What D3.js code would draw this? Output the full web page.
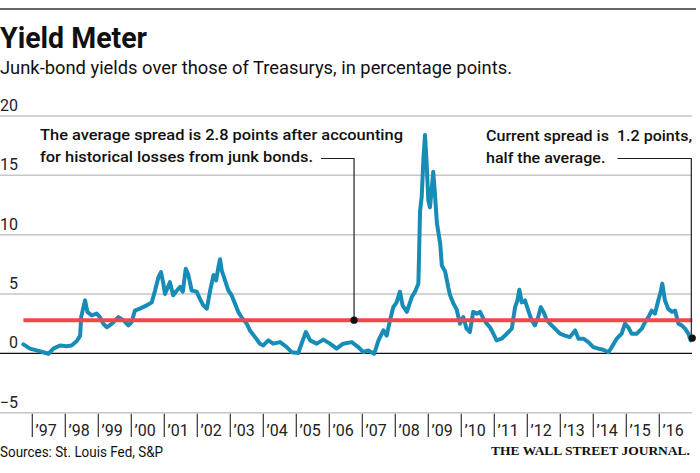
<!DOCTYPE html>
<html>
<head>
<meta charset="utf-8">
<script src="https://cdn.jsdelivr.net/npm/d3@7"></script>
<style>
  html, body { margin: 0; padding: 0; background: #fff; }
  svg { display: block; }
  text { font-family: Roboto, "Noto Sans", sans-serif; fill: #111; }
</style>
</head>
<body>
<svg id="chart" width="700" height="473"></svg>
<script>
// ---------- data ----------
const title = "Yield Meter";
const subtitle = "Junk-bond yields over those of Treasurys, in percentage points.";
const source = "Sources: St. Louis Fed, S&P";
const credit = "THE WALL STREET JOURNAL.";

const yTicks = [-5, 0, 5, 10, 15, 20];
const xYears = [1997,1998,1999,2000,2001,2002,2003,2004,2005,2006,2007,2008,2009,2010,2011,2012,2013,2014,2015,2016];
const xLabels = ["’97","’98","’99","’00","’01","’02","’03","’04","’05","’06","’07","’08","’09","’10","’11","’12","’13","’14","’15","’16"];

// decimal year of each observation
const dates = [
 1996.73,1996.93,1997.13,1997.33,1997.49,1997.64,1997.84,1998.04,1998.19,1998.35,
 1998.45,1998.48,1998.55,1998.60,1998.67,1998.80,1998.95,1999.05,1999.15,1999.26,
 1999.41,1999.61,1999.76,1999.91,2000.01,2000.11,2000.26,2000.47,2000.62,2000.72,
 2000.82,2000.90,2000.97,2001.02,2001.17,2001.27,2001.38,2001.48,2001.56,2001.65,
 2001.73,2001.83,2001.98,2002.08,2002.18,2002.29,2002.39,2002.49,2002.57,2002.64,
 2002.69,2002.74,2002.84,2002.94,2003.04,2003.14,2003.24,2003.35,2003.50,2003.60,
 2003.75,2003.90,2004.00,2004.15,2004.30,2004.51,2004.71,2004.86,2005.06,2005.16,
 2005.29,2005.42,2005.62,2005.82,2006.02,2006.22,2006.42,2006.68,2006.88,2007.03,
 2007.18,2007.36,2007.49,2007.64,2007.74,2007.84,2007.94,2008.04,2008.14,2008.22,
 2008.35,2008.50,2008.60,2008.70,2008.75,2008.80,2008.85,2008.90,2008.95,2009.00,
 2009.05,2009.10,2009.15,2009.20,2009.26,2009.36,2009.41,2009.51,2009.61,2009.66,
 2009.76,2009.86,2009.96,2010.06,2010.16,2010.26,2010.36,2010.47,2010.57,2010.67,
 2010.77,2010.87,2010.97,2011.07,2011.22,2011.38,2011.53,2011.63,2011.70,2011.76,
 2011.83,2011.93,2012.03,2012.13,2012.23,2012.33,2012.41,2012.49,2012.59,2012.69,
 2012.84,2012.99,2013.14,2013.29,2013.45,2013.55,2013.70,2013.85,2014.00,2014.15,
 2014.30,2014.46,2014.56,2014.71,2014.86,2014.96,2015.06,2015.16,2015.32,2015.47,
 2015.57,2015.67,2015.77,2015.87,2015.97,2016.04,2016.09,2016.17,2016.27,2016.38,
 2016.48,2016.58,2016.68,2016.78,2016.88,2016.95,2017.00
];
// spread, percentage points
const spread = [
 0.76,0.40,0.25,0.10,-0.03,0.40,0.67,0.60,0.67,1.04,
 1.50,3.06,3.90,4.47,3.50,3.20,3.35,3.06,2.50,2.20,
 2.50,3.06,2.80,2.36,2.64,3.60,3.77,4.05,4.30,5.30,
 6.40,6.85,5.90,5.00,6.00,4.90,5.30,5.60,5.20,7.14,
 6.60,5.30,5.20,4.60,4.05,3.77,5.30,6.60,6.15,7.28,
 7.93,7.00,6.15,5.30,4.90,4.20,3.50,3.00,2.50,1.90,
 1.37,0.82,0.67,1.10,0.82,0.95,0.53,0.10,0.03,0.82,
 1.80,1.10,0.82,1.16,0.82,0.40,0.82,0.95,0.53,0.10,
 0.25,-0.03,1.10,1.94,1.50,2.80,3.90,4.30,5.20,4.05,
 3.50,4.75,5.20,5.90,12.00,13.20,16.30,18.40,16.00,12.90,
 12.30,13.70,15.30,13.50,11.00,9.25,7.40,6.90,5.50,4.90,
 4.20,3.70,2.50,3.06,2.08,1.80,3.50,3.35,3.50,2.92,
 2.50,2.20,1.66,1.10,1.24,1.66,2.08,3.90,4.47,5.37,
 4.30,4.47,3.60,2.80,2.36,3.06,3.90,3.50,2.80,2.50,
 2.08,1.66,1.50,1.37,1.94,1.24,1.24,0.95,0.53,0.40,
 0.31,0.10,0.53,1.24,1.66,2.50,2.20,1.66,1.66,2.08,
 2.64,3.06,3.60,3.35,4.47,5.17,5.88,4.47,3.77,3.50,
 3.60,2.50,2.36,2.08,1.66,1.10,1.29
];
const averageSpread = 2.8;
const averageNoteDate = 2006.75;
const noteAverage = ["The average spread is 2.8 points after accounting", "for historical losses from junk bonds."];
const noteCurrent = ["Current spread is  1.2 points,", "half the average."];

// ---------- layout ----------
const svg = d3.select("#chart");
const plotRight = 692;
const x = d3.scaleLinear().domain([1997, 2017]).range([32.3, 692.3]);
const y = d3.scaleLinear().domain([0, 20]).range([353.4, 116]);

const data = dates.map((d, i) => ({ t: d, v: spread[i] }));

// top rule
svg.append("line").attr("x1", 0).attr("x2", 696).attr("y1", 9).attr("y2", 9)
  .attr("stroke", "#333").attr("stroke-width", 1.5);

// title + subtitle
svg.append("text").attr("x", 0).attr("y", 47.5).text(title)
  .attr("font-size", 29).attr("font-weight", 700)
  .attr("textLength", 147).attr("lengthAdjust", "spacingAndGlyphs");
svg.append("text").attr("x", 0).attr("y", 74).text(subtitle)
  .attr("font-size", 17.5).attr("font-weight", 400)
  .attr("textLength", 512).attr("lengthAdjust", "spacingAndGlyphs");

// gridlines
const grid = svg.append("g");
grid.selectAll("line").data(yTicks).join("line")
  .attr("x1", 0).attr("x2", plotRight)
  .attr("y1", d => y(d)).attr("y2", d => y(d))
  .attr("stroke", d => d === 0 ? "#111" : "#c6c6c6")
  .attr("stroke-width", d => d === 0 ? 1.4 : 1.5);
grid.selectAll("text").data(yTicks).join("text")
  .attr("x", 18).attr("y", d => y(d) - 5)
  .attr("text-anchor", "end").attr("font-size", 16).attr("font-weight", 400)
  .style("fill", "#222")
  .text(d => d < 0 ? "−" + Math.abs(d) : d);

// x axis ticks
const xa = svg.append("g");
xa.selectAll("line").data(xYears).join("line")
  .attr("x1", d => x(d)).attr("x2", d => x(d))
  .attr("y1", y(-5) + 1).attr("y2", 437)
  .attr("stroke", "#333").attr("stroke-width", 1.2);
xa.selectAll("text").data(xYears).join("text")
  .attr("x", d => x(d) + 3.3).attr("y", 436)
  .attr("font-size", 16).attr("font-weight", 400)
  .style("fill", "#222")
  .text((d, i) => xLabels[i]);

// series line
const line = d3.line().x(d => x(d.t)).y(d => y(d.v)).curve(d3.curveLinear);
svg.append("path").datum(data).attr("d", line)
  .attr("fill", "none").attr("stroke", "#178cb7").attr("stroke-width", 4)
  .attr("stroke-linejoin", "round").attr("stroke-linecap", "round");

// average line
svg.append("line")
  .attr("x1", x(dates[0])).attr("x2", x(dates[dates.length - 1]))
  .attr("y1", y(averageSpread)).attr("y2", y(averageSpread))
  .attr("stroke", "#f0474d").attr("stroke-width", 4);

// annotations
function addNote(lines, x0, baselines, targetWidth) {
  const g = svg.append("g");
  const ts = lines.map((s, i) => g.append("text")
    .attr("x", x0).attr("y", baselines[i])
    .attr("font-size", 15.5).attr("font-weight", 500)
    .style("white-space", "pre").text(s));
  const natural = ts[0].node().getComputedTextLength();
  const r = targetWidth / natural;
  return ts.map(t => {
    const w = t.node().getComputedTextLength() * r;
    t.attr("textLength", w).attr("lengthAdjust", "spacingAndGlyphs");
    return w;
  });
}
const wA = addNote(noteAverage, 40, [139.5, 162], 363);
const wC = addNote(noteCurrent, 486, [140.5, 162.5], 206);

const leaderY = 158.5;
const ax = x(averageNoteDate), ay = y(averageSpread);
svg.append("path")
  .attr("d", `M${40 + wA[1] + 8},${leaderY}H${ax}V${ay}`)
  .attr("fill", "none").attr("stroke", "#222").attr("stroke-width", 1.2);
svg.append("circle").attr("cx", ax).attr("cy", ay).attr("r", 3.6).attr("fill", "#111");

const last = data[data.length - 1];
const cx = x(last.t), cy = y(last.v);
svg.append("path")
  .attr("d", `M${486 + wC[1] + 12},${leaderY}H${cx - 1}V${cy}`)
  .attr("fill", "none").attr("stroke", "#222").attr("stroke-width", 1.2);
svg.append("circle").attr("cx", cx).attr("cy", cy).attr("r", 3.6).attr("fill", "#111");

// footer
svg.append("text").attr("x", 0).attr("y", 457).text(source)
  .attr("font-size", 14).attr("font-weight", 400)
  .attr("textLength", 163).attr("lengthAdjust", "spacingAndGlyphs");
svg.append("text").attr("x", 690).attr("y", 455).text(credit)
  .attr("text-anchor", "end")
  .style("font-family", "'Liberation Serif', 'DejaVu Serif', serif")
  .attr("font-size", 13.5).attr("font-weight", 700)
  .attr("textLength", 199).attr("lengthAdjust", "spacingAndGlyphs");
</script>
</body>
</html>
